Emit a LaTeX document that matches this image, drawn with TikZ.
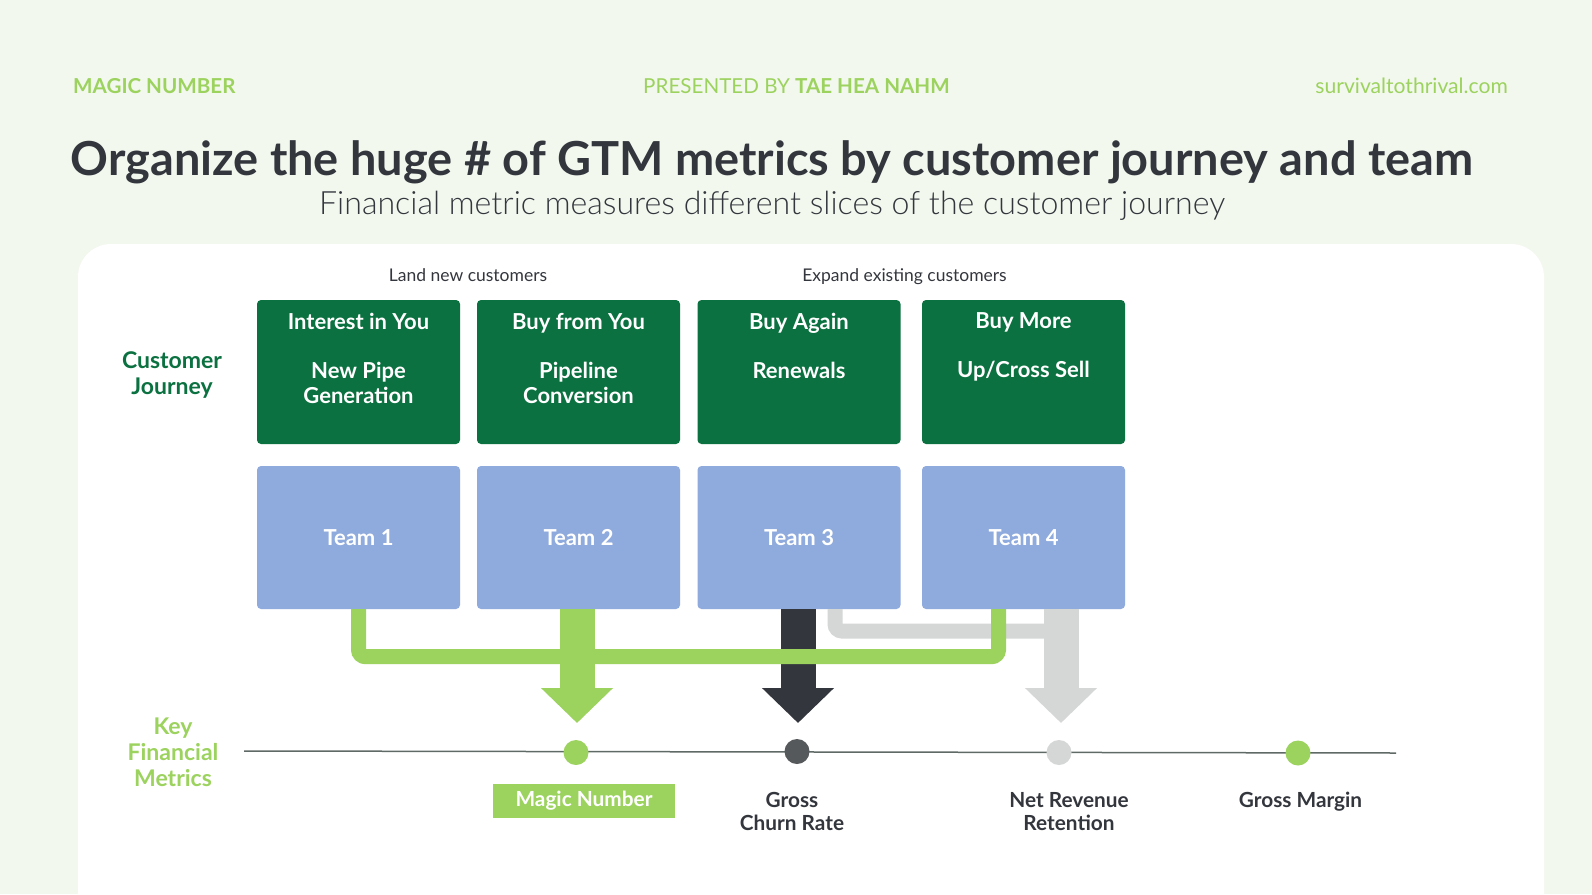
\documentclass[tikz,border=0pt]{standalone}
\usepackage{fontspec}
\setmainfont{Lato}
\newfontfamily\lightfont{Lato Light}
\usepackage{xcolor}
\usetikzlibrary{positioning,arrows.meta}

\definecolor{pagebg}{HTML}{F3F8EE}
\definecolor{jgreen}{HTML}{0B7140}
\definecolor{tblue}{HTML}{8FAADC}
\definecolor{kgreen}{HTML}{9CD25E}
\definecolor{ink}{HTML}{33363D}
\definecolor{lgray}{HTML}{D5D7D6}
\definecolor{dgray}{HTML}{55595C}
\definecolor{axisgray}{HTML}{5F6965}

\tikzset{
  jbox/.style={fill=jgreen, rounded corners=4pt, minimum width=203pt, minimum height=144pt,
    inner sep=0pt, text=white, font=\fontsize{22}{25}\selectfont\bfseries},
  tbox/.style={fill=tblue, rounded corners=4pt, minimum width=203pt, minimum height=143pt,
    inner sep=0pt, text=white, font=\fontsize{22}{25}\selectfont\bfseries},
  flow/.style={line width=15pt},
  bigarrow/.style={line width=35pt, -{Triangle[length=35pt,width=70pt]}},
  kdot/.style={circle, minimum size=25pt, inner sep=0pt},
  klabel/.style={text=ink, align=center, font=\fontsize{20.8}{23}\selectfont\bfseries},
  side/.style={align=center, font=\fontsize{23}{26}\selectfont\bfseries},
  head/.style={inner sep=0pt, text=kgreen, font=\fontsize{20.6}{24}\selectfont},
}
\newcommand{\jtext}[2]{\parbox[c][118pt][t]{200pt}{\centering #1\\[24pt]#2}}

\begin{document}
\begin{tikzpicture}[x=1pt,y=-1pt]
	\useasboundingbox (0,0) rectangle (1592,894);
	\clip (0,0) rectangle (1592,894);
	\fill[pagebg] (0,0) rectangle (1592,894);
	\fill[white, rounded corners=33pt] (78,244) rectangle (1544,940);
	
	% header
	\node[head, anchor=base west, font=\fontsize{20.6}{24}\selectfont\bfseries] (tag) at (73,93.5) {MAGIC NUMBER};
	\node[head, anchor=base] (by) at (796.5,93.5) {PRESENTED BY \textbf{TAE HEA NAHM}};
	\node[head, anchor=base east, font=\fontsize{21.1}{24}\selectfont] (site) at (1508,93.5) {survivaltothrival.com};
	\node[anchor=base, text=ink, font=\fontsize{46.9}{50}\selectfont\bfseries] (title) at (772,175) {Organize the huge \# of GTM metrics by customer journey and team};
	\node[anchor=base, text=ink, font=\fontsize{32.1}{38}\selectfont\lightfont] (subtitle) at (772,214) {Financial metric measures different slices of the customer journey};
	
	\node[anchor=base, text=ink, font=\fontsize{17.5}{20}\selectfont] (land) at (468,281) {Land new customers};
	\node[anchor=base, text=ink, font=\fontsize{17.5}{20}\selectfont] (expand) at (904.5,281) {Expand existing customers};
	
	% customer journey
	\node[side, text=jgreen] (cj) at (172,375.5) {Customer\\Journey};
	\node[jbox] (j1) at (358.5,372) {\jtext{Interest in You}{New Pipe\\Generation}};
	\node[jbox] (j2) at (578.5,372) {\jtext{Buy from You}{Pipeline\\Conversion}};
	\node[jbox] (j3) at (799,372) {\jtext{Buy Again}{Renewals}};
	\node[jbox] (j4) at (1023.5,372) {\jtext{Buy More}{Up/Cross Sell}};
	
	% teams
	\foreach \i/\cx in {1/358.5,2/578.5,3/799,4/1023.5} {
		\node[tbox] (t\i) at (\cx,537.5) {Team \i};
	}
	
	\coordinate (tipA) at (577,723);
	\coordinate (tipB) at (798,723);
	\coordinate (tipC) at (1061,723);
	\coordinate (gbend) at (1061,631);
	
	% flows
	\draw[flow, lgray, rounded corners=7pt] ([xshift=36pt]t3.south) |- (gbend);
	\draw[bigarrow, lgray] (t4.south -| tipC) -- (tipC);
	\draw[bigarrow, ink] (t3.south -| tipB) -- (tipB);
	\draw[flow, kgreen, rounded corners=7pt] (t1.south) -- ++(0,47.5) -| ([xshift=-25pt]t4.south);
	\draw[bigarrow, kgreen] (t2.south -| tipA) -- (tipA);
	
	% key financial metrics
	\node[side, text=kgreen] (kfm) at (173,752) {Key\\Financial\\Metrics};
	\coordinate (axl) at (244,751);
	\coordinate (axr) at (1396,753);
	\draw[axisgray, line width=1.5pt] (axl) -- (axr);
	
	\node[kdot, fill=kgreen] (d1) at (576,752.5) {};
	\node[kdot, fill=dgray] (d2) at (797,751.5) {};
	\node[kdot, fill=lgray] (d3) at (1059,752.5) {};
	\node[kdot, fill=kgreen] (d4) at (1298,753) {};
	
	\node[klabel, fill=kgreen, text=white, minimum width=182pt, minimum height=34pt, inner sep=0pt] (mn) at (584,801) {\raisebox{-1pt}{Magic Number}};
	\node[klabel] (gcr) at (792,811.5) {Gross\\Churn Rate};
	\node[klabel] (nrr) at (1069,811.5) {Net Revenue\\Retention};
	\node[klabel] (gm) at (1300.5,802) {Gross Margin};
\end{tikzpicture}
\end{document}
